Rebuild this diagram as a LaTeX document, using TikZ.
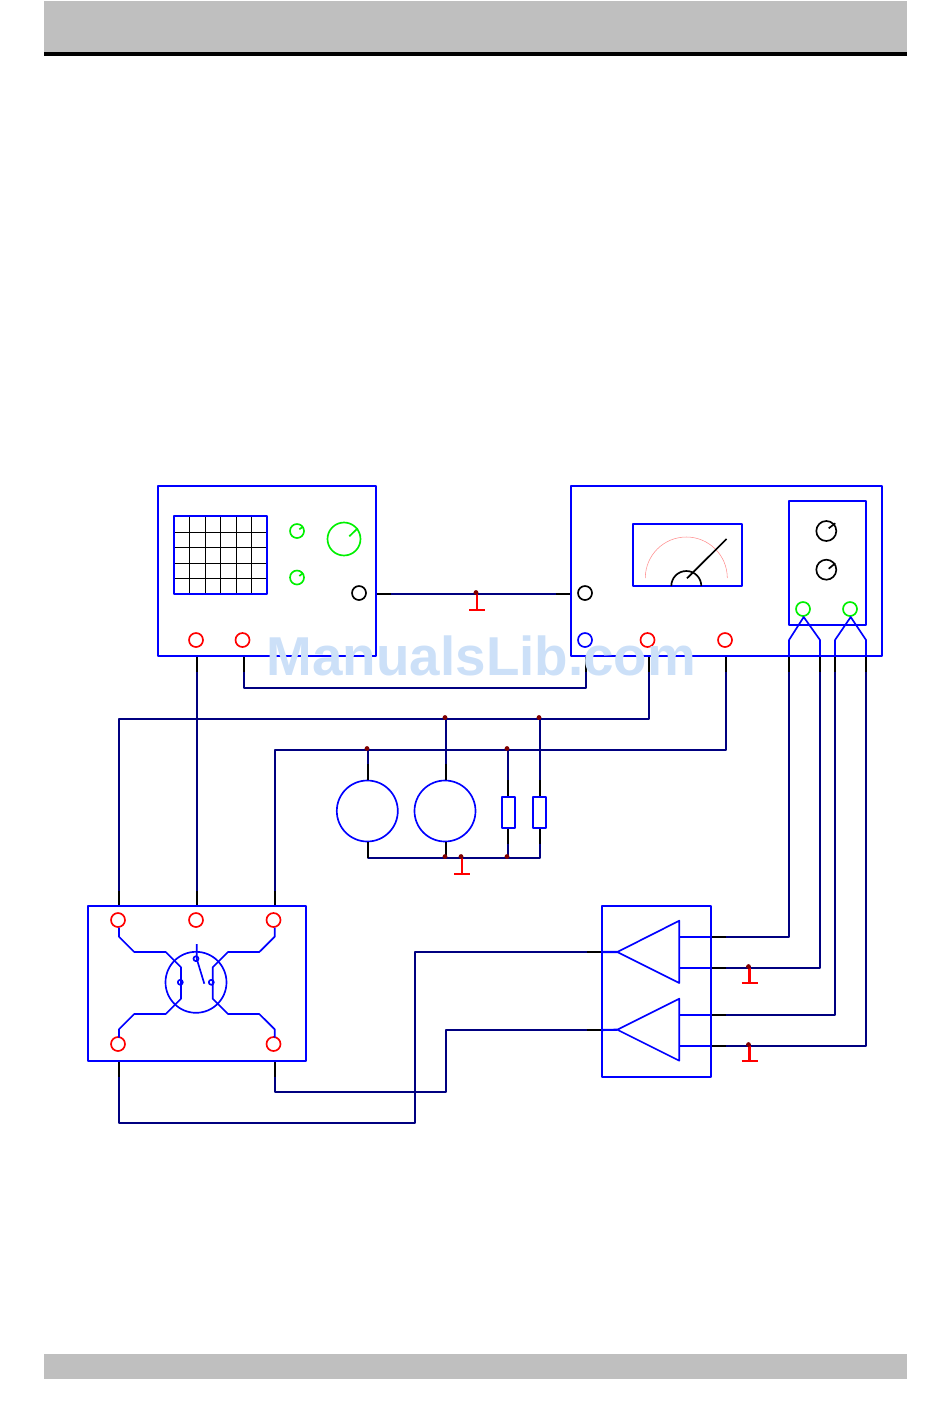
\documentclass[tikz,border=0pt]{standalone}
\usepackage{fontspec}
\setsansfont{Liberation Sans}
\definecolor{wireblue}{HTML}{000080}
\definecolor{devblue}{HTML}{0000FF}
\definecolor{bandgray}{HTML}{BFBFBF}
\definecolor{dotred}{HTML}{800000}
\definecolor{knobgreen}{HTML}{00F000}
\definecolor{markcolor}{HTML}{CCE0F8}
\tikzset{
    term/.style={circle, draw=#1, line width=1.25pt, minimum size=10.5pt, inner sep=0pt},
    term/.default=red,
    dev/.style={draw=devblue, line width=1.55pt},
    thin dev/.style={draw=devblue, line width=1.25pt},
    wire/.style={draw=wireblue, line width=1.6pt},
    stub/.style={draw=black, line width=1.6pt},
    gnd/.style={draw=red, line width=1.6pt},
    junction/.style={circle, fill=dotred, minimum size=3.6pt, inner sep=0pt, xshift=-0.75pt, yshift=1.1pt},
    px/.style={x=0.75pt, y=-0.75pt}
}
\begin{document}
\begin{tikzpicture}[px, line join=round]
    \useasboundingbox (0,0) rectangle (950,1420);
    % page bands
    \fill[bandgray] (44,1) rectangle (907,52);
    \fill[black] (44,52) rectangle (907,56);
    \fill[bandgray] (44,1354) rectangle (907,1379);

    % ports on the device edges
    \coordinate (scopeOutA) at (197,656);
    \coordinate (scopeOutB) at (244,656);
    \coordinate (scopeSig) at (376,594);
    \coordinate (meterSig) at (571,594);
    \coordinate (meterOutA) at (586,656);
    \coordinate (meterOutB) at (649,656);
    \coordinate (meterOutC) at (726,656);
    \coordinate (chanA) at (789,656);
    \coordinate (chanB) at (820,656);
    \coordinate (chanC) at (835,656);
    \coordinate (chanD) at (866,656);
    \coordinate (boxInA) at (119,906);
    \coordinate (boxInB) at (197,906);
    \coordinate (boxInC) at (275,906);
    \coordinate (boxOutA) at (119,1061);
    \coordinate (boxOutB) at (275,1061);
    \coordinate (ampInA) at (602,952);
    \coordinate (ampInB) at (602,1030);
    \coordinate (ampOutA) at (711,937);
    \coordinate (ampOutB) at (711,968);
    \coordinate (ampOutC) at (711,1015);
    \coordinate (ampOutD) at (711,1046);

    % wiring
    \draw[wire] (scopeSig)--(meterSig);
    \draw[wire] (boxInB)--(scopeOutA);
    \draw[wire] (scopeOutB)|-(400,688)-|(meterOutA);
    \draw[wire] (meterOutB)|-(400,719)-|(boxInA);
    \draw[wire] (meterOutC)|-(400,750)-|(boxInC);
    \draw[wire] (boxOutA)|-(415,1123)|-(ampInA);
    \draw[wire] (boxOutB)|-(446,1092)|-(ampInB);
    \draw[wire] (ampOutA)-|(chanA);
    \draw[wire] (ampOutB)-|(chanB);
    \draw[wire] (ampOutC)-|(chanC);
    \draw[wire] (ampOutD)-|(chanD);

    % black ends of the wires
    \draw[stub] (scopeSig)--++(15,0) (meterSig)--++(-15,0);
    \foreach \p in {scopeOutA,scopeOutB,meterOutA,meterOutB,meterOutC,chanA,chanB,chanC,chanD,boxOutA,boxOutB}
        \draw[stub] (\p)--++(0,15.5);
    \foreach \p in {boxInA,boxInB,boxInC}
        \draw[stub] (\p)--++(0,-15.5);
    \foreach \p in {ampInA,ampInB}
        \draw[stub] (\p)--++(-15,0);
    \foreach \p in {ampOutA,ampOutB,ampOutC,ampOutD}
        \draw[stub] (\p)--++(15,0);

    % oscilloscope
    \draw[stub, line width=0.9pt] (189.3,516) -- (189.3,594) (205.7,516) -- (205.7,594)
        (220.7,516) -- (220.7,594) (236.7,516) -- (236.7,594) (251.7,516) -- (251.7,594)
        (174,532.3) -- (267,532.3) (174,547.3) -- (267,547.3) (174,563.3) -- (267,563.3)
        (174,578.3) -- (267,578.3);
    \draw[dev] (158,486) rectangle (376,656);
    \draw[dev] (174,516) rectangle (267,594);
    \node[term=knobgreen] (knobA) at (297,531) {};
    \node[term=knobgreen] (knobB) at (297,577.5) {};
    \node[term=knobgreen, minimum size=24.75pt] (knobC) at (344,539) {};
    \draw[knobgreen, line width=1.25pt] (299.3,529.3)--(303,526.7) (299.3,576)--(303,573) (349.3,536.3)--(357.7,528.3);
    \node[term=black] (scopeJack) at (359,593) {};
    \node[term] (scopeRedA) at (196,640) {};
    \node[term] (scopeRedB) at (242.5,640) {};

    % meter
    \draw[dev] (571,486) rectangle (882,656);
    \draw[dev] (633,524) rectangle (742,586);
    \draw[red!45, line width=0.4pt] (645.3,578) arc[start angle=180, end angle=360, radius=41];
    \draw[black, line width=1.25pt] (671.3,586) arc[start angle=180, end angle=360, radius=15];
    \draw[black, line width=1.25pt] (687,578.3)--(726.5,539);
    \draw[dev] (789,501) rectangle (866,625);
    \node[term=black, minimum size=15pt] (rangeA) at (826.3,531) {};
    \node[term=black, minimum size=15pt] (rangeB) at (826.3,569.7) {};
    \draw[black, line width=1.25pt] (828.7,528.3)--(835.3,523.3) (828.7,568.7)--(835.3,563.3);
    \node[term=knobgreen] (chanJackA) at (803,609) {};
    \node[term=knobgreen] (chanJackB) at (850,609) {};
    \node[term=black] (meterJack) at (585,593) {};
    \node[term=devblue] (meterBlue) at (585,640) {};
    \node[term] (meterRedA) at (647.5,640) {};
    \node[term] (meterRedB) at (725,640) {};
    \draw[thin dev] (chanA)--(789,640)--(803.7,617)--(820,640)--(chanB);
    \draw[thin dev] (chanC)--(835,640)--(850.7,617)--(866,640)--(chanD);

    % sources and loads
    \node[circle, thin dev, minimum size=45.75pt, inner sep=0pt] (genA) at (367.3,811) {};
    \node[circle, thin dev, minimum size=45.75pt, inner sep=0pt] (genB) at (445,811) {};
    \node[rectangle, dev, minimum width=9.75pt, minimum height=23.25pt, inner sep=0pt] (loadA) at (508.3,812.3) {};
    \node[rectangle, dev, minimum width=9.75pt, minimum height=23.25pt, inner sep=0pt] (loadB) at (539.5,812.3) {};
    \coordinate (lineTopA) at (446,719);
    \coordinate (lineTopB) at (540,719);
    \coordinate (lineMidA) at (368,750);
    \coordinate (lineMidB) at (508,750);
    \coordinate (railA) at (368,858);
    \coordinate (railB) at (446,858);
    \coordinate (railC) at (462,858);
    \coordinate (railD) at (508,858);
    \coordinate (railE) at (540,858);
    \draw[wire] (lineMidA)--(lineMidA|-genA.north) (lineTopA)--(lineTopA|-genB.north);
    \draw[wire] (lineMidB)--(lineMidB|-loadA.north) (lineTopB)--(lineTopB|-loadB.north);
    \draw[wire] (railA|-genA.south)--(railA)--(railE)--(railE|-loadB.south);
    \draw[wire] (railB|-genB.south)--(railB) (railD|-loadA.south)--(railD);
    \draw[stub] (lineMidA|-genA.north)--++(0,-15.5) (lineTopA|-genB.north)--++(0,-15.5);
    \draw[stub] (lineMidB|-loadA.north)--++(0,-15.5) (lineTopB|-loadB.north)--++(0,-15.5);
    \draw[stub] (railA|-genA.south)--++(0,15.5) (railB|-genB.south)--++(0,15.5);
    \draw[stub] (railD|-loadA.south)--++(0,15.5) (railE|-loadB.south)--++(0,15.5);

    % selector box
    \draw[dev] (88,906) rectangle (306,1061);
    \node[term] (boxRedA) at (118,920) {};
    \node[term] (boxRedB) at (196,920) {};
    \node[term] (boxRedC) at (273.5,920) {};
    \node[term] (boxRedD) at (118,1044) {};
    \node[term] (boxRedE) at (273.5,1044) {};
    \node[circle, thin dev, minimum size=45.75pt, inner sep=0pt] (selector) at (196,982.3) {};
    \draw[thin dev] (119,927.7)--(119,936.7)--(134.3,952)--(165.7,952)--(181,967.3)--(181,998.7)--(165.7,1014)--(134.3,1014)--(119,1029.3)--(119,1037.7);
    \draw[thin dev] (274.7,927.7)--(274.7,936.7)--(259.3,952)--(228,952)--(212.7,967.3)--(212.7,998.7)--(228,1014)--(259.3,1014)--(274.7,1029.3)--(274.7,1037.7);
    \node[circle, thin dev, minimum size=3.75pt, inner sep=0pt] (pivot) at (196,958.7) {};
    \node[circle, thin dev, minimum size=3.75pt, inner sep=0pt] (contactA) at (180.3,982.3) {};
    \node[circle, thin dev, minimum size=3.75pt, inner sep=0pt] (contactB) at (211.3,982.3) {};
    \draw[thin dev] (196.7,944)--(196.7,958.7)--(204.3,983.7);

    % amplifiers
    \draw[dev] (602,906) rectangle (711,1077);
    \coordinate (ampTipA) at (617.3,952);
    \coordinate (ampTipB) at (617.3,1029.7);
    \draw[thin dev] (ampTipA)--(679.3,920.7)--(679.3,983)--cycle;
    \draw[thin dev] (ampTipB)--(679.3,998.7)--(679.3,1060.7)--cycle;
    \draw[dev] (ampInA)--(ampTipA) (ampInB)--(ampTipB);
    \draw[dev] (679.3,937)--(ampOutA) (679.3,968)--(ampOutB) (679.3,1015)--(ampOutC) (679.3,1046)--(ampOutD);

    % grounds
    \coordinate (gndA) at (477,594);
    \coordinate (gndB) at (railC);
    \coordinate (gndC) at (749.5,968);
    \coordinate (gndD) at (749.5,1046);
    \foreach \g/\h in {gndA/16,gndB/16,gndC/15,gndD/15}{
        \draw[gnd] (\g)--++(0,\h) ++(-8,0)--++(16,0);
        \node[junction] at (\g) {};
    }
    \foreach \j in {lineTopA,lineTopB,lineMidA,lineMidB,railB,railD}
        \node[junction] at (\j) {};

    % overlay text
    \node[anchor=base west, inner sep=0pt, text=markcolor, font=\sffamily\bfseries\fontsize{41.1}{41.1}\selectfont] (stamp) at (266.5,675) {ManualsLib.com};
\end{tikzpicture}
\end{document}
